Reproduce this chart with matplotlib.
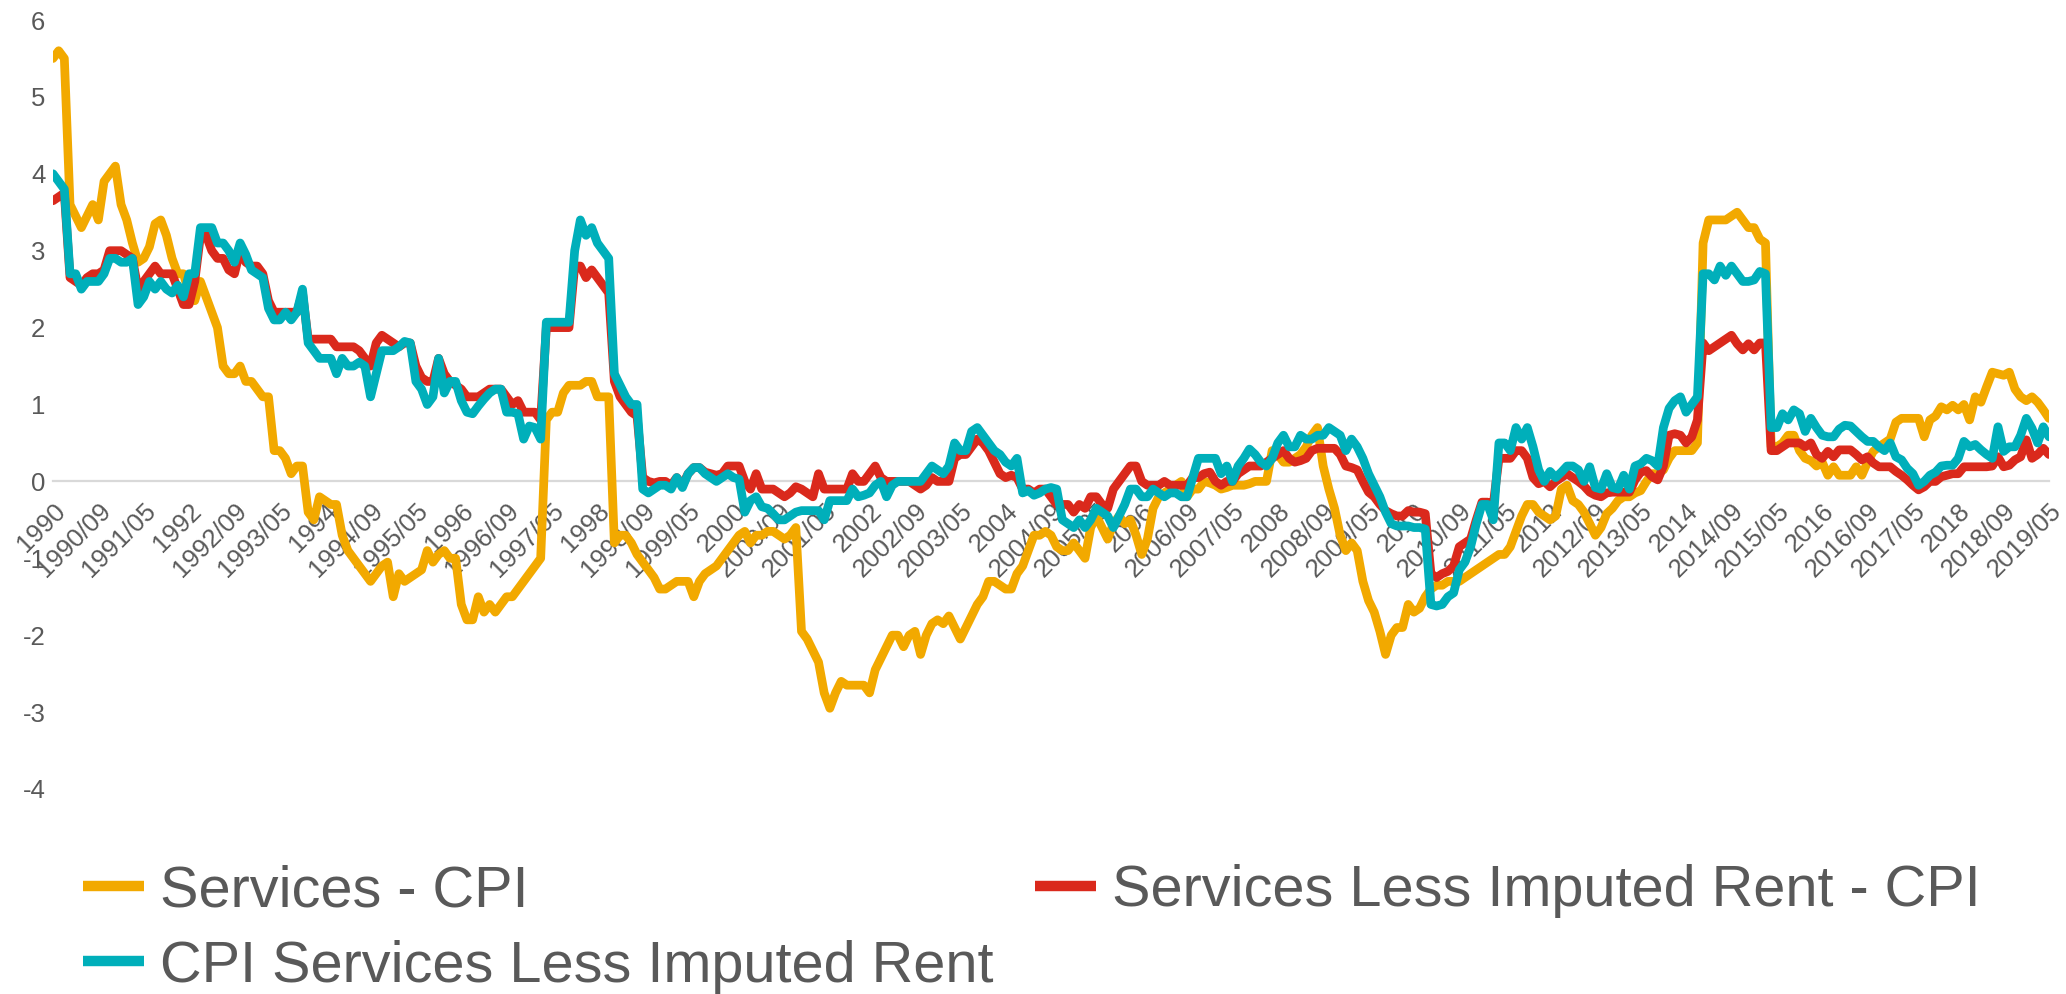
import matplotlib
matplotlib.use("Agg")
import matplotlib.pyplot as plt

plt.rcParams['font.family'] = ['Liberation Sans', 'DejaVu Sans']
plt.rcParams['axes.unicode_minus'] = False

# ---------------- data (monthly, 1990/01 .. 2019/05) ----------------
series_names = ["Services - CPI", "Services Less Imputed Rent - CPI", "CPI Services Less Imputed Rent"]

services_cpi = [
    5.5, 5.6, 5.5, 3.6, 3.45, 3.3, 3.45, 3.6, 3.4, 3.9,
    4.0, 4.1, 3.6, 3.4, 3.1, 2.85, 2.9, 3.05, 3.35, 3.4,
    3.2, 2.9, 2.7, 2.7, 2.45, 2.35, 2.6, 2.4, 2.2, 2.0,
    1.5, 1.4, 1.4, 1.5, 1.3, 1.3, 1.2, 1.1, 1.1, 0.4,
    0.4, 0.3, 0.1, 0.2, 0.2, -0.4, -0.5, -0.2, -0.25, -0.3,
    -0.3, -0.7, -0.9, -1.0, -1.1, -1.2, -1.3, -1.2, -1.1, -1.05,
    -1.5, -1.2, -1.3, -1.25, -1.2, -1.15, -0.9, -1.05, -0.95, -0.9,
    -1.0, -1.0, -1.6, -1.8, -1.8, -1.5, -1.7, -1.6, -1.7, -1.6,
    -1.5, -1.5, -1.4, -1.3, -1.2, -1.1, -1.0, 0.8, 0.9, 0.9,
    1.15, 1.25, 1.25, 1.25, 1.3, 1.3, 1.1, 1.1, 1.1, -0.8,
    -0.7, -0.7, -0.8, -0.95, -1.05, -1.15, -1.25, -1.4, -1.4, -1.35,
    -1.3, -1.3, -1.3, -1.5, -1.3, -1.2, -1.15, -1.1, -1.0, -0.9,
    -0.8, -0.7, -0.65, -0.8, -0.7, -0.7, -0.65, -0.65, -0.7, -0.75,
    -0.7, -0.6, -1.95, -2.05, -2.2, -2.35, -2.75, -2.95, -2.75, -2.6,
    -2.65, -2.65, -2.65, -2.65, -2.75, -2.45, -2.3, -2.15, -2.0, -2.0,
    -2.15, -2.0, -1.95, -2.25, -2.0, -1.85, -1.8, -1.85, -1.75, -1.9,
    -2.05, -1.9, -1.75, -1.6, -1.5, -1.3, -1.3, -1.35, -1.4, -1.4,
    -1.2, -1.1, -0.9, -0.7, -0.7, -0.65, -0.7, -0.85, -0.9, -0.9,
    -0.8, -0.9, -1.0, -0.6, -0.45, -0.6, -0.75, -0.55, -0.45, -0.55,
    -0.5, -0.7, -0.95, -0.75, -0.35, -0.2, -0.15, -0.1, -0.05, 0.0,
    -0.2, -0.1, -0.1, 0.0, -0.02, -0.05, -0.1, -0.08, -0.05, -0.05,
    -0.05, -0.03, 0.0, 0.0, 0.0, 0.4, 0.35, 0.25, 0.25, 0.3,
    0.35, 0.45, 0.6, 0.7, 0.2, -0.1, -0.35, -0.7, -0.9, -0.8,
    -0.9, -1.3, -1.55, -1.7, -1.95, -2.25, -2.0, -1.9, -1.9, -1.6,
    -1.7, -1.65, -1.5, -1.4, -1.35, -1.35, -1.3, -1.3, -1.3, -1.25,
    -1.2, -1.15, -1.1, -1.05, -1.0, -0.95, -0.95, -0.85, -0.65, -0.45,
    -0.3, -0.3, -0.4, -0.45, -0.5, -0.45, -0.1, -0.05, -0.25, -0.3,
    -0.4, -0.55, -0.7, -0.6, -0.42, -0.35, -0.25, -0.2, -0.2, -0.15,
    -0.12, 0.0, 0.1, 0.1, 0.15, 0.3, 0.4, 0.4, 0.4, 0.4,
    0.5, 3.1, 3.4, 3.4, 3.4, 3.4, 3.45, 3.5, 3.4, 3.3,
    3.3, 3.15, 3.1, 0.45, 0.45, 0.5, 0.6, 0.6, 0.4, 0.3,
    0.27, 0.2, 0.25, 0.08, 0.19, 0.08, 0.08, 0.08, 0.19, 0.08,
    0.25, 0.39, 0.45, 0.5, 0.55, 0.77, 0.82, 0.82, 0.82, 0.82,
    0.58, 0.8, 0.85, 0.97, 0.93, 0.99, 0.93, 1.0, 0.8, 1.1,
    1.03, 1.23, 1.42, 1.4, 1.38, 1.42, 1.2, 1.1, 1.05, 1.1,
    1.03, 0.93, 0.82,
]

services_less_rent_cpi = [
    3.65, 3.7, 3.75, 2.65, 2.6, 2.55, 2.65, 2.7, 2.7, 2.75,
    3.0, 3.0, 3.0, 2.95, 2.9, 2.5, 2.6, 2.7, 2.8, 2.7,
    2.7, 2.7, 2.5, 2.3, 2.3, 2.6, 3.2, 3.2, 3.0, 2.9,
    2.9, 2.75, 2.7, 3.0, 2.85, 2.8, 2.8, 2.7, 2.35, 2.2,
    2.2, 2.2, 2.2, 2.2, 2.45, 1.85, 1.85, 1.85, 1.85, 1.85,
    1.75, 1.75, 1.75, 1.75, 1.7, 1.6, 1.5, 1.8, 1.9, 1.85,
    1.8, 1.75, 1.8, 1.8, 1.5, 1.35, 1.3, 1.3, 1.6, 1.4,
    1.3, 1.25, 1.2, 1.1, 1.1, 1.1, 1.15, 1.2, 1.2, 1.2,
    1.1, 1.0, 1.05, 0.9, 0.9, 0.9, 0.8, 2.0, 2.0, 2.0,
    2.0, 2.0, 2.8, 2.8, 2.65, 2.75, 2.65, 2.55, 2.45, 1.3,
    1.1, 1.0, 0.9, 0.85, 0.05, 0.0, -0.02, 0.0, 0.0, -0.05,
    0.05, -0.05, 0.1, 0.18, 0.18, 0.12, 0.1, 0.08, 0.1, 0.2,
    0.2, 0.2, 0.0, -0.1, 0.1, -0.1, -0.1, -0.1, -0.15, -0.2,
    -0.15, -0.07, -0.1, -0.15, -0.2, 0.1, -0.1, -0.1, -0.1, -0.1,
    -0.1, 0.1, 0.0, 0.0, 0.1, 0.2, 0.05, 0.0, 0.0, 0.0,
    0.0, 0.0, -0.05, -0.1, -0.05, 0.05, 0.0, 0.0, 0.0, 0.3,
    0.35, 0.35, 0.45, 0.55, 0.5, 0.4, 0.25, 0.1, 0.05, 0.08,
    0.05, -0.1, -0.1, -0.15, -0.1, -0.1, -0.2, -0.3, -0.3, -0.3,
    -0.4, -0.3, -0.35, -0.2, -0.2, -0.3, -0.35, -0.1, 0.0, 0.1,
    0.2, 0.2, 0.0, -0.05, -0.05, -0.05, 0.0, -0.05, -0.05, -0.05,
    -0.05, 0.05, 0.05, 0.1, 0.12, 0.0, -0.05, 0.0, 0.0, 0.1,
    0.15, 0.2, 0.2, 0.2, 0.25, 0.3, 0.35, 0.4, 0.3, 0.25,
    0.27, 0.3, 0.4, 0.43, 0.43, 0.43, 0.43, 0.35, 0.2, 0.18,
    0.15, 0.0, -0.14, -0.2, -0.3, -0.38, -0.42, -0.45, -0.45, -0.38,
    -0.4, -0.4, -0.42, -1.2, -1.25, -1.2, -1.17, -1.1, -0.85, -0.8,
    -0.75, -0.5, -0.27, -0.27, -0.3, 0.3, 0.3, 0.3, 0.4, 0.4,
    0.3, 0.05, -0.03, 0.0, -0.07, 0.0, 0.05, 0.1, 0.05, 0.0,
    -0.06, -0.14, -0.18, -0.2, -0.15, -0.14, -0.14, -0.14, -0.14, 0.02,
    0.12, 0.14, 0.06, 0.02, 0.2, 0.6, 0.62, 0.6, 0.5, 0.58,
    0.8, 1.8, 1.7, 1.75, 1.8, 1.85, 1.9, 1.79, 1.71, 1.79,
    1.71, 1.8, 1.8, 0.4, 0.4, 0.45, 0.5, 0.5, 0.5, 0.45,
    0.5, 0.35, 0.3, 0.39, 0.32, 0.41, 0.41, 0.41, 0.35, 0.28,
    0.32, 0.24, 0.19, 0.19, 0.19, 0.13, 0.08, 0.02, -0.05, -0.11,
    -0.07, 0.0, 0.0, 0.06, 0.08, 0.1, 0.1, 0.19, 0.19, 0.19,
    0.19, 0.19, 0.2, 0.32, 0.19, 0.21, 0.28, 0.32, 0.54, 0.3,
    0.35, 0.43, 0.35,
]

cpi_services_less_rent = [
    4.0, 3.9, 3.8, 2.7, 2.7, 2.5, 2.6, 2.6, 2.6, 2.7,
    2.9, 2.9, 2.85, 2.85, 2.9, 2.3, 2.4, 2.6, 2.5, 2.6,
    2.5, 2.45, 2.55, 2.4, 2.7, 2.7, 3.3, 3.3, 3.3, 3.1,
    3.1, 3.0, 2.85, 3.1, 2.95, 2.75, 2.7, 2.65, 2.25, 2.1,
    2.1, 2.2, 2.1, 2.2, 2.5, 1.8, 1.7, 1.6, 1.6, 1.6,
    1.4, 1.6, 1.5, 1.5, 1.55, 1.5, 1.1, 1.4, 1.7, 1.7,
    1.7, 1.75, 1.82, 1.8, 1.3, 1.2, 1.0, 1.1, 1.6, 1.15,
    1.3, 1.3, 1.05, 0.9, 0.88, 0.98, 1.07, 1.15, 1.2, 1.2,
    0.9, 0.9, 0.88, 0.55, 0.72, 0.7, 0.55, 2.07, 2.07, 2.07,
    2.07, 2.07, 3.0, 3.4, 3.2, 3.3, 3.1, 3.0, 2.9, 1.4,
    1.25, 1.1, 1.0, 1.0, -0.1, -0.15, -0.1, -0.05, -0.05, -0.1,
    0.05, -0.08, 0.1, 0.18, 0.18, 0.1, 0.05, 0.0, 0.05, 0.1,
    0.05, 0.03, -0.4, -0.25, -0.2, -0.33, -0.35, -0.42, -0.5, -0.5,
    -0.45, -0.4, -0.38, -0.38, -0.38, -0.38, -0.5, -0.25, -0.25, -0.25,
    -0.25, -0.1, -0.2, -0.18, -0.15, -0.05, 0.0, -0.2, -0.05, 0.0,
    0.0, 0.0, 0.0, 0.0, 0.1, 0.2, 0.15, 0.1, 0.2, 0.5,
    0.4, 0.4, 0.65, 0.7, 0.6, 0.5, 0.4, 0.35, 0.25, 0.2,
    0.3, -0.15, -0.12, -0.18, -0.15, -0.1, -0.08, -0.1, -0.5, -0.55,
    -0.6, -0.5, -0.6, -0.5, -0.35, -0.4, -0.45, -0.6, -0.45, -0.3,
    -0.1, -0.1, -0.2, -0.2, -0.1, -0.15, -0.2, -0.15, -0.15, -0.2,
    -0.2, 0.05, 0.3, 0.3, 0.3, 0.3, 0.1, 0.2, 0.0, 0.2,
    0.3, 0.42, 0.35, 0.25, 0.2, 0.3, 0.5, 0.6, 0.45, 0.45,
    0.6, 0.55, 0.55, 0.6, 0.6, 0.7, 0.65, 0.6, 0.4, 0.55,
    0.45, 0.3, 0.1, -0.05, -0.2, -0.4, -0.55, -0.58, -0.58, -0.58,
    -0.6, -0.6, -0.62, -1.6, -1.62, -1.6, -1.5, -1.45, -1.15, -1.05,
    -0.85, -0.55, -0.3, -0.3, -0.5, 0.5, 0.5, 0.4, 0.7, 0.55,
    0.7, 0.45, 0.15, 0.0, 0.13, 0.05, 0.12, 0.2, 0.2, 0.15,
    0.0, 0.19, -0.08, -0.1, 0.1, -0.08, -0.1, 0.08, -0.1, 0.2,
    0.23, 0.3, 0.27, 0.2, 0.7, 0.95, 1.05, 1.1, 0.9, 1.0,
    1.1, 2.7, 2.7, 2.62, 2.8, 2.68, 2.8, 2.7, 2.6, 2.6,
    2.62, 2.73, 2.7, 0.7, 0.7, 0.88, 0.8, 0.93, 0.88, 0.65,
    0.82, 0.7, 0.6, 0.58, 0.58, 0.68, 0.73, 0.72, 0.65, 0.58,
    0.52, 0.52, 0.45, 0.4, 0.5, 0.32, 0.28, 0.17, 0.1, -0.05,
    0.0, 0.08, 0.12, 0.2, 0.21, 0.21, 0.3, 0.52, 0.45, 0.48,
    0.41, 0.35, 0.3, 0.71, 0.39, 0.45, 0.45, 0.6, 0.82, 0.69,
    0.5, 0.71, 0.58,
]

tick_labels = [
    "1990", "1990/09", "1991/05", "1992", "1992/09", "1993/05", "1994", "1994/09",
    "1995/05", "1996", "1996/09", "1997/05", "1998", "1998/09", "1999/05", "2000",
    "2000/09", "2001/05", "2002", "2002/09", "2003/05", "2004", "2004/09", "2005/05",
    "2006", "2006/09", "2007/05", "2008", "2008/09", "2009/05", "2010", "2010/09",
    "2011/05", "2012", "2012/09", "2013/05", "2014", "2014/09", "2015/05", "2016",
    "2016/09", "2017/05", "2018", "2018/09", "2019/05",
]
tick_step = 8
y_ticks = [-4, -3, -2, -1, 0, 1, 2, 3, 4, 5, 6]

# ---------------- styling ----------------
C_ORANGE = "#F2A900"
C_RED = "#DA291C"
C_CYAN = "#00AFBA"
TXT = "#595959"

W, H = 2066, 994
fig = plt.figure(figsize=(W / 100, H / 100), dpi=100)
ax = fig.add_axes([53 / W, 205 / H, 1996 / W, 769 / H])

n = len(services_cpi)
x = list(range(n))
kw = dict(linewidth=6.3, solid_joinstyle="round", solid_capstyle="round")
l1, = ax.plot(x, services_cpi, color=C_ORANGE, zorder=3, label=series_names[0], **kw)
l2, = ax.plot(x, services_less_rent_cpi, color=C_RED, zorder=4, label=series_names[1], **kw)
l3, = ax.plot(x, cpi_services_less_rent, color=C_CYAN, zorder=5, label=series_names[2], **kw)

ax.set_xlim(0, n - 1)
ax.set_ylim(-4, 6)

for s in ("top", "right", "left"):
    ax.spines[s].set_visible(False)
ax.spines["bottom"].set_position(("data", 0))
ax.spines["bottom"].set_color("#D9D9D9")
ax.spines["bottom"].set_linewidth(1.6)
ax.spines["bottom"].set_zorder(1)

ax.set_xticks(list(range(0, n, tick_step)))
ax.set_xticklabels(tick_labels)
ax.tick_params(axis="x", length=0, pad=12.5, labelsize=18.5, labelcolor=TXT)
for lab in ax.get_xticklabels():
    lab.set_rotation(45)
    lab.set_ha("right")
    lab.set_va("top")
    lab.set_rotation_mode("anchor")

ax.set_yticks(y_ticks)
ax.set_yticklabels([str(v) for v in y_ticks])
ax.tick_params(axis="y", length=0, pad=5.5, labelsize=18.5, labelcolor=TXT)

leg = fig.legend(handles=[l1, l3, l2], labels=[series_names[0], series_names[2], series_names[1]],
                 ncol=2, loc="upper left", bbox_to_anchor=(83 / W, 0.1305),
                 frameon=False, fontsize=41.5, handlelength=1.05, handletextpad=0.28,
                 columnspacing=0.73, labelspacing=0.37, borderpad=0, borderaxespad=0,
                 labelcolor=TXT)
for h in leg.legend_handles:
    h.set_linewidth(7.5)
    h.set_solid_capstyle("butt")

fig.savefig("out.png", dpi=100)
